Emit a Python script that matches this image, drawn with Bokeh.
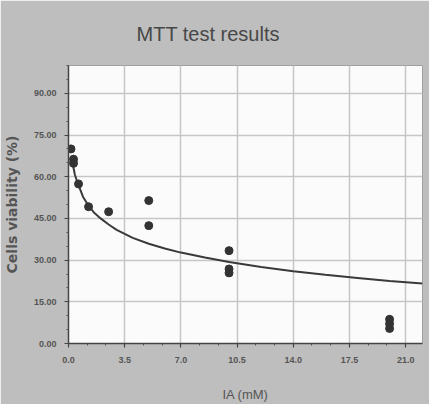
from bokeh.plotting import figure
from bokeh.models import FixedTicker, Range1d, ColumnDataSource
from bokeh.embed import file_html
from bokeh.resources import INLINE

# ---- data ----
title_text = "MTT test results"
x_label = "IA (mM)"
y_label = "Cells viability (%)"

# measured points (concentration in mM, viability in %)
conc = [0.156, 0.3125, 0.3125, 0.625, 1.25, 2.5, 5.0, 5.0, 10.0, 10.0, 10.0, 20.0, 20.0, 20.0]
viability = [70.0, 66.3, 64.8, 57.4, 49.2, 47.4, 51.4, 42.4, 33.4, 26.8, 25.4, 8.7, 7.1, 5.4]

# fitted trend curve
fit_conc = [0.25, 0.4, 0.6, 0.9, 1.2, 1.6, 2.0, 2.5, 3.0, 4.0, 5.0, 6.0, 7.0, 8.5,
            10.0, 12.0, 14.0, 16.0, 18.0, 20.0, 22.05]
fit_viability = [65.0, 60.6, 57.3, 52.8, 50.0, 47.0, 45.0, 42.8, 40.9, 38.0, 35.9, 34.2,
                 32.7, 30.9, 29.3, 27.5, 26.0, 24.7, 23.6, 22.5, 21.6]

x_ticks = [0.0, 3.5, 7.0, 10.5, 14.0, 17.5, 21.0]
x_tick_labels = ["0.0", "3.5", "7.0", "10.5", "14.0", "17.5", "21.0"]
y_ticks = [0, 15, 30, 45, 60, 75, 90]
y_tick_labels = ["0.00", "15.00", "30.00", "45.00", "60.00", "75.00", "90.00"]

# ---- figure ----
p = figure(width=429, height=404,
           x_range=Range1d(0, 22.05), y_range=Range1d(0, 100),
           output_backend="svg", toolbar_location=None,
           min_border_left=68, min_border_right=7,
           min_border_top=64, min_border_bottom=60)

p.background_fill_color = "#fbfbfb"
p.border_fill_color = "#bebebe"
p.outline_line_color = "#a0a0a0"
p.outline_line_width = 1

# title
p.title.text = title_text
p.title.align = "left"
p.title.offset = 68
p.title.text_font = "Liberation Sans"
p.title.text_font_size = "20px"
p.title.text_font_style = "normal"
p.title.text_color = "#474747"
p.title.standoff = 41

# ticks
x_step = x_ticks[1] - x_ticks[0]
x_minor = [t + k * x_step / 3 for t in x_ticks for k in (1, 2)]
y_step = y_ticks[1] - y_ticks[0]
y_minor = [t + k * y_step / 3 for t in y_ticks for k in (1, 2)]
p.xaxis.ticker = FixedTicker(ticks=x_ticks, minor_ticks=x_minor)
p.yaxis.ticker = FixedTicker(ticks=y_ticks, minor_ticks=y_minor)
p.xaxis.major_label_overrides = {float(t): s for t, s in zip(x_ticks, x_tick_labels)}
p.yaxis.major_label_overrides = {float(t): s for t, s in zip(y_ticks, y_tick_labels)}

for ax in (p.xaxis, p.yaxis):
    ax.axis_line_color = "#444444"
    ax.axis_line_width = 1.5
    ax.major_tick_line_color = "#444444"
    ax.major_tick_line_width = 1.2
    ax.major_tick_out = 4
    ax.major_tick_in = 0
    ax.minor_tick_line_color = "#555555"
    ax.minor_tick_out = 2
    ax.minor_tick_in = 0
    ax.major_label_text_font = "Liberation Sans"
    ax.major_label_text_font_size = "9px"
    ax.major_label_text_font_style = "bold"
    ax.major_label_text_color = "#555555"
    ax.axis_label_text_color = "#555555"

p.xaxis.axis_label = x_label
p.xaxis.axis_label_text_font = "Liberation Sans"
p.xaxis.axis_label_text_font_size = "13px"
p.xaxis.axis_label_text_font_style = "normal"
p.xaxis.major_label_standoff = 9
p.xaxis.axis_label_standoff = 21

p.yaxis.axis_label = y_label
p.yaxis.axis_label_text_font = "DejaVu Sans"
p.yaxis.axis_label_text_font_size = "14px"
p.yaxis.axis_label_text_font_style = "bold"
p.yaxis.major_label_standoff = 8
p.yaxis.axis_label_standoff = 11

p.xgrid.grid_line_color = "#c6c6c6"
p.ygrid.grid_line_color = "#c6c6c6"
p.xgrid.grid_line_width = 1.5
p.ygrid.grid_line_width = 1.5

fit_src = ColumnDataSource(data=dict(x=fit_conc, y=fit_viability))
pts_src = ColumnDataSource(data=dict(x=conc, y=viability))
p.line("x", "y", source=fit_src, line_color="#3a3a3a", line_width=2)
p.scatter("x", "y", source=pts_src, size=8, fill_color="#333333", line_color="#333333")

open("out.html", "w").write(file_html(p, INLINE))
